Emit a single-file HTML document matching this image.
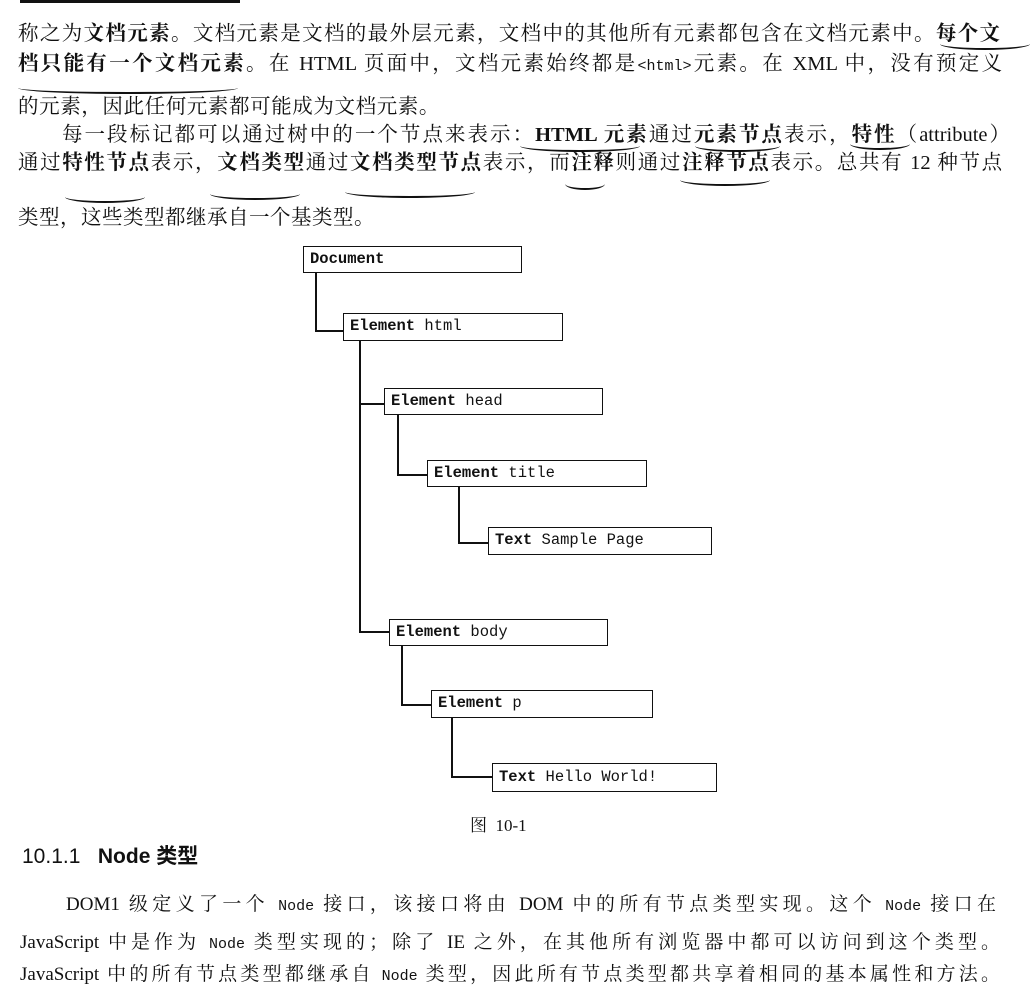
<!DOCTYPE html>
<html><head><meta charset="utf-8"><style>
body{margin:0;width:1032px;height:996px;background:#fff;position:relative;overflow:hidden;font-family:"Liberation Serif","Noto Serif CJK SC",serif;color:#111}
.l{position:absolute;white-space:nowrap;font-size:20.5px;line-height:24px;height:24px;overflow:visible}
.j{text-align:justify;text-align-last:justify;text-justify:inter-character;white-space:normal}
.b{position:absolute;border:1.6px solid #111;background:#fff;font-family:"Liberation Mono",monospace;font-size:15.5px;padding-left:6px;box-sizing:border-box}
.b b{font-weight:bold}
.v{position:absolute;background:#111;width:2px}
.h{position:absolute;background:#111;height:2px}
.u{position:absolute;border-bottom:2.5px solid #111;border-radius:0 0 50% 50%/0 0 6px 6px;height:6px}
.m{font-family:'Liberation Mono',monospace;font-size:15px}
</style></head><body>
<div class="h" style="left:20px;top:0;width:220px;height:3px"></div>
<div class="l j" style="left:18px;top:22px;width:982px">称之为<b>文档元素</b>。文档元素是文档的最外层元素，文档中的其他所有元素都包含在文档元素中。<b>每个文</b></div>
<div class="l j" style="left:18px;top:52px;width:984px"><b>档只能有一个文档元素</b>。在 HTML 页面中，文档元素始终都是<span class="m">&lt;html&gt;</span>元素。在 XML 中，没有预定义</div>
<div class="l" style="left:18px;top:95px;letter-spacing:0.6px">的元素，因此任何元素都可能成为文档元素。</div>
<div class="l j" style="left:62px;top:123px;width:948px">每一段标记都可以通过树中的一个节点来表示：<b>HTML 元素</b>通过<b>元素节点</b>表示，<b>特性</b>（attribute）</div>
<div class="l j" style="left:18px;top:151px;width:984px">通过<b>特性节点</b>表示，<b>文档类型</b>通过<b>文档类型节点</b>表示，而<b>注释</b>则通过<b>注释节点</b>表示。总共有 12 种节点</div>
<div class="l" style="left:18px;top:206px;letter-spacing:0.5px">类型，这些类型都继承自一个基类型。</div>
<div class="u" style="left:18px;top:86px;width:220px"></div>
<div class="u" style="left:520px;top:144px;width:120px"></div>
<div class="u" style="left:695px;top:144px;width:85px"></div>
<div class="u" style="left:850px;top:142px;width:60px"></div>
<div class="u" style="left:65px;top:195px;width:80px"></div>
<div class="u" style="left:210px;top:192px;width:90px"></div>
<div class="u" style="left:345px;top:190px;width:130px"></div>
<div class="u" style="left:565px;top:182px;width:40px"></div>
<div class="u" style="left:680px;top:178px;width:90px"></div>
<div class="u" style="left:940px;top:42px;width:90px"></div>

<div class="v" style="left:315px;top:271px;height:61px"></div><div class="h" style="left:315px;top:330px;width:30px"></div>
<div class="v" style="left:359px;top:340px;height:293px"></div>
<div class="h" style="left:359px;top:403px;width:27px"></div><div class="h" style="left:359px;top:631px;width:32px"></div>
<div class="v" style="left:397px;top:414px;height:62px"></div><div class="h" style="left:397px;top:474px;width:32px"></div>
<div class="v" style="left:458px;top:486px;height:58px"></div><div class="h" style="left:458px;top:542px;width:32px"></div>
<div class="v" style="left:401px;top:645px;height:61px"></div><div class="h" style="left:401px;top:704px;width:32px"></div>
<div class="v" style="left:451px;top:717px;height:61px"></div><div class="h" style="left:451px;top:776px;width:43px"></div>

<div class="b" style="left:303px;top:246px;width:219px;height:27px;line-height:24px"><b>Document</b></div>
<div class="b" style="left:343px;top:313px;width:220px;height:28px;line-height:25px"><b>Element</b> html</div>
<div class="b" style="left:384px;top:388px;width:219px;height:27px;line-height:24px"><b>Element</b> head</div>
<div class="b" style="left:427px;top:460px;width:220px;height:27px;line-height:24px"><b>Element</b> title</div>
<div class="b" style="left:488px;top:527px;width:224px;height:28px;line-height:25px"><b>Text</b> Sample Page</div>
<div class="b" style="left:389px;top:619px;width:219px;height:27px;line-height:24px"><b>Element</b> body</div>
<div class="b" style="left:431px;top:690px;width:222px;height:28px;line-height:25px"><b>Element</b> p</div>
<div class="b" style="left:492px;top:763px;width:225px;height:29px;line-height:26px"><b>Text</b> Hello World!</div>

<div class="l" style="left:470px;top:814px;font-size:17px">图&nbsp;&nbsp;10-1</div>
<div class="l" style="left:22px;top:843px;font-family:'Liberation Sans','Noto Sans CJK SC',sans-serif;font-size:21px;line-height:28px">10.1.1&nbsp;&nbsp; <b>Node 类型</b></div>
<div class="l j" style="left:66px;top:893px;width:930px;font-size:19px">DOM1 级定义了一个 <span class="m">Node</span> 接口，该接口将由 DOM 中的所有节点类型实现。这个 <span class="m">Node</span> 接口在</div>
<div class="l j" style="left:20px;top:931px;width:980px;font-size:19px">JavaScript 中是作为 <span class="m">Node</span> 类型实现的；除了 IE 之外，在其他所有浏览器中都可以访问到这个类型。</div>
<div class="l j" style="left:20px;top:963px;width:980px;font-size:19px">JavaScript 中的所有节点类型都继承自 <span class="m">Node</span> 类型，因此所有节点类型都共享着相同的基本属性和方法。</div>
</body></html>
